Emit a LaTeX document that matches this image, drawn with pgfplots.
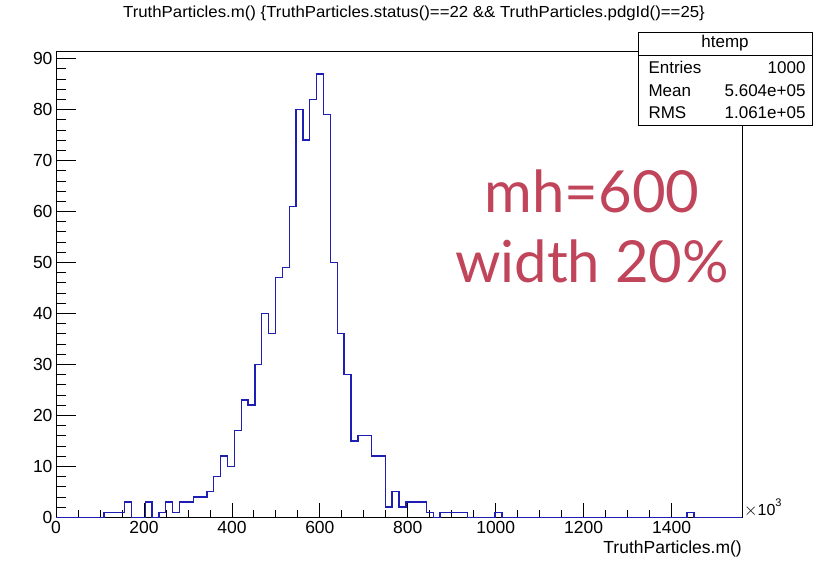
\documentclass[border=0pt]{standalone}
\usepackage{fontspec}
\setmainfont{Liberation Sans}
\newfontfamily\gill{Lato}
\usepackage{pgfplots}
\pgfplotsset{compat=1.18}
\definecolor{histblue}{RGB}{30,30,180}
\definecolor{rosered}{RGB}{192,68,90}
\begin{document}
\begin{tikzpicture}
\useasboundingbox (0,0) rectangle (840pt,562pt);
\begin{axis}[
  at={(56pt,44.7pt)}, anchor=south west,
  scale only axis, width=686pt, height=465.6pt,
  xmin=0, xmax=1560, ymin=0, ymax=91.35,
  axis line style={line width=1pt},
  xtick={0,200,...,1400}, ytick={0,10,...,90},
  minor x tick num=3, minor y tick num=4,
  tick align=inside, xtick pos=bottom, ytick pos=left,
  xtick style={line width=0.8pt, /pgfplots/major tick length=14pt, /pgfplots/minor tick length=7pt, black},
  ytick style={line width=0.8pt, /pgfplots/major tick length=20pt, /pgfplots/minor tick length=10pt, black},
  ticklabel style={font=\fontsize{17.5}{20}\selectfont},
  /pgf/number format/assume math mode=true,
  /pgf/number format/1000 sep={},
  scaled x ticks=false,
  clip=false,
]
\addplot[const plot, histblue, line width=1.35pt] coordinates {
(0,0) (109.2,1) (156,3) (171.6,0) (202.8,3) (218.4,0) (234,1) (249.6,3)
(265.2,1) (280.8,3) (312,4) (343.2,5) (358.8,8) (374.4,12) (390,10)
(405.6,17) (421.2,23) (436.8,22) (452.4,30) (468,40) (483.6,36) (499.2,47)
(514.8,49) (530.4,61) (546,80) (561.6,74) (577.2,82) (592.8,87) (608.4,79)
(624,50) (639.6,36) (655.2,28) (670.8,15) (686.4,16) (717.6,12) (748.8,2)
(764.4,5) (780,2) (795.6,3) (842.4,1) (858,0) (873.6,1) (936,0) (998.4,1)
(1014,0) (1435.2,1) (1450.8,0) (1560,0)
};
\end{axis}
% title
\node[anchor=base, inner sep=0pt] at (414pt,544.7pt) {\fontsize{16}{18}\selectfont\scalebox{1.05}[1]{TruthParticles.m() \{TruthParticles.status()==22 \&\& TruthParticles.pdgId()==25\}}};
% stat box
\draw[fill=white, line width=0.9pt] (638pt,437pt) rectangle (812pt,530pt);
\draw[line width=0.9pt] (638pt,507pt) -- (812pt,507pt);
\node[anchor=center] at (725pt,518.5pt) {\fontsize{17}{20}\selectfont htemp};
\node[anchor=base west] at (645pt,488pt) {\fontsize{17}{20}\selectfont Entries};
\node[anchor=base east] at (809pt,488pt) {\fontsize{17}{20}\selectfont 1000};
\node[anchor=base west] at (645pt,465pt) {\fontsize{17}{20}\selectfont Mean};
\node[anchor=base east] at (809pt,465pt) {\fontsize{17}{20}\selectfont 5.604e+05};
\node[anchor=base west] at (645pt,443pt) {\fontsize{17}{20}\selectfont RMS};
\node[anchor=base east] at (809pt,443pt) {\fontsize{17}{20}\selectfont 1.061e+05};
% axis label and exponent
\node[anchor=base east, inner sep=0pt] at (742pt,9pt) {\fontsize{17.5}{20}\selectfont TruthParticles.m()};
\node[anchor=base west, inner sep=0pt] at (744pt,47pt) {\fontsize{16}{18}\selectfont $\times$10\raisebox{0.55em}{\fontsize{11}{12}\selectfont 3}};
% annotation
\node[anchor=base, inner sep=0pt, text=rosered] at (592pt,349pt) {\gill\fontsize{58}{64}\selectfont mh=600};
\node[anchor=base, inner sep=0pt, text=rosered] at (592pt,279pt) {\gill\fontsize{58}{64}\selectfont width 20\%};
\end{tikzpicture}
\end{document}
